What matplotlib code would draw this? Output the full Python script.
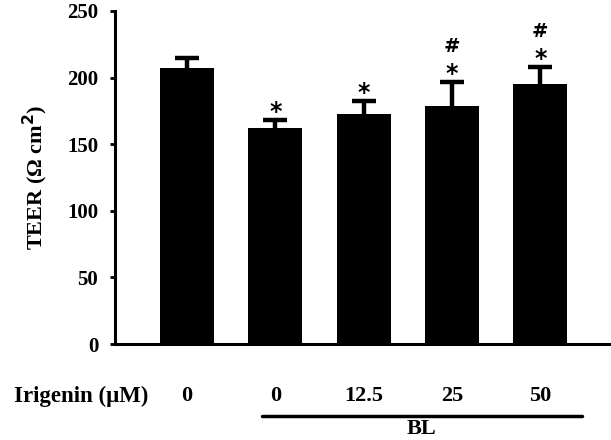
import matplotlib.pyplot as plt
from matplotlib.transforms import blended_transform_factory

plt.rcParams['font.family'] = ['Liberation Serif', 'DejaVu Serif']
plt.rcParams['font.weight'] = 'bold'

# data
doses = ['0', '0', '12.5', '25', '50']
teer = [207, 162, 172.5, 179, 195]
sem = [8, 6, 10, 18, 13]
marks = ['', '*', '*', '*', '*']
hashes = ['', '', '', '#', '#']

fig = plt.figure(figsize=(6.11, 4.40), dpi=100)
ax = fig.add_axes([0.188, 0.218, 0.809, 0.757])

pos = list(range(len(teer)))
ax.bar(pos, teer, width=0.61, color='black', zorder=2)
eb = ax.errorbar(pos, teer, yerr=[[0] * len(sem), sem], fmt='none', ecolor='black',
                 elinewidth=3.2, capsize=8.5, capthick=3.2, zorder=1)
eb[1][0].set_visible(False)  # no lower cap

# significance marks above the caps
for x, y, e, m, h in zip(pos, teer, sem, marks, hashes):
    if m:
        ax.annotate(m, (x, y + e), xytext=(0, 1), textcoords='offset pixels',
                    ha='center', va='baseline', fontsize=17, fontweight='bold',
                    family='DejaVu Sans')
    if h:
        ax.annotate(h, (x, y + e), xytext=(0, 30), textcoords='offset pixels',
                    ha='center', va='baseline', fontsize=14, fontweight='bold',
                    family='DejaVu Sans')

ax.set_xlim(-0.816, 4.78)
ax.set_ylim(0, 250)
ax.set_yticks([0, 50, 100, 150, 200, 250])
ax.set_xticks([])
ax.spines['top'].set_visible(False)
ax.spines['right'].set_visible(False)
ax.spines['left'].set_linewidth(2.2)
ax.spines['bottom'].set_linewidth(2.2)
ax.tick_params(axis='y', length=3.5, width=2, pad=8.5, labelsize=15)
for lbl in ax.get_yticklabels():
    lbl.set_fontweight('bold')

ax.set_ylabel('TEER (Ω cm$^\\mathbf{2}$)', fontsize=16, fontweight='bold', labelpad=12)

# dose row below the axis
tr = blended_transform_factory(ax.transData, ax.transAxes)
for x, d in zip(pos, doses):
    ax.text(x, -0.156, d, transform=tr, ha='center', va='center',
            fontsize=16, fontweight='bold')
ax.text(-0.44, -0.156, 'Irigenin (μM)', transform=tr, ha='right', va='center',
        fontsize=16.5, fontweight='bold')
ax.plot([0.85, 4.476], [-0.216, -0.216], transform=tr, color='black',
        lw=2.5, clip_on=False, solid_capstyle='round')
ax.text(2.66, -0.256, 'BL', transform=tr, ha='center', va='center',
        fontsize=16, fontweight='bold')

fig.savefig('out.png', dpi=100)
